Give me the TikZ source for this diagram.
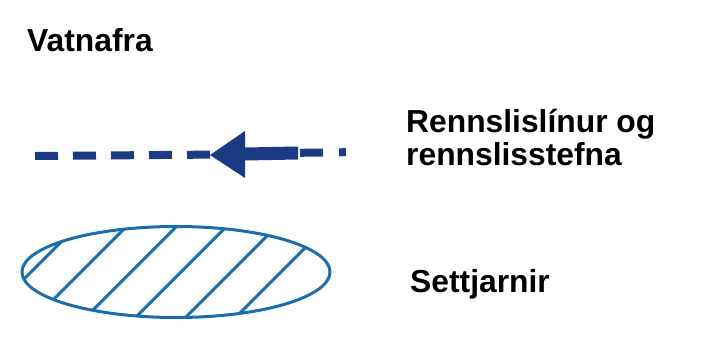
\documentclass[tikz,border=0pt]{standalone}
\usepackage{fontspec}
\usetikzlibrary{shapes.geometric}
\setmainfont{Liberation Sans}
\definecolor{flowblue}{HTML}{1B3C84}
\definecolor{pondblue}{HTML}{1A6EAD}
\tikzset{
  lbl/.style={anchor=base west, inner sep=0pt, font=\fontsize{31.8}{32}\selectfont\bfseries},
  flowdash/.style={draw=flowblue, line width=8pt, dash pattern=on 23pt off 15pt},
  hatch/.style={draw=pondblue, line width=3pt},
}
\begin{document}
\begin{tikzpicture}[x=1pt,y=-1pt]
\useasboundingbox (0,0) rectangle (720,350);
% labels
\node[lbl] (vatn) at (27,52) {Vatnafra};
\node[lbl] (renn1) at (406,133) {Rennslislínur og};
\node[lbl] (renn2) at (406,165) {rennslisstefna};
\node[lbl] (sett) at (410,292) {Settjarnir};
% flow line
\coordinate (a0) at (35,156);
\coordinate (a1) at (212,154.6);
\coordinate (b0) at (300,152.8);
\coordinate (b1) at (346,152.2);
\draw[flowdash] (a0) -- (a1);
\draw[flowdash, dash pattern=on 23pt off 16pt] (b0) -- (b1);
\fill[flowblue] (210,155) -- (245,131) -- (245,147.5) -- (298,146.5) -- (298,159.5) -- (245,160.5) -- (245,178) -- cycle;
% pond
\node[ellipse, inner sep=0pt, minimum width=308pt, minimum height=91pt] (pond) at (176,272) {};
\begin{scope}
  \clip (176,272) ellipse [x radius=154, y radius=45.5];
  \foreach \c in {303,353,403,453,503,553}
    \draw[hatch] (\c-340,340) -- (\c-190,190);
\end{scope}
\draw[hatch] (176,272) ellipse [x radius=154, y radius=45.5];
\end{tikzpicture}
\end{document}
